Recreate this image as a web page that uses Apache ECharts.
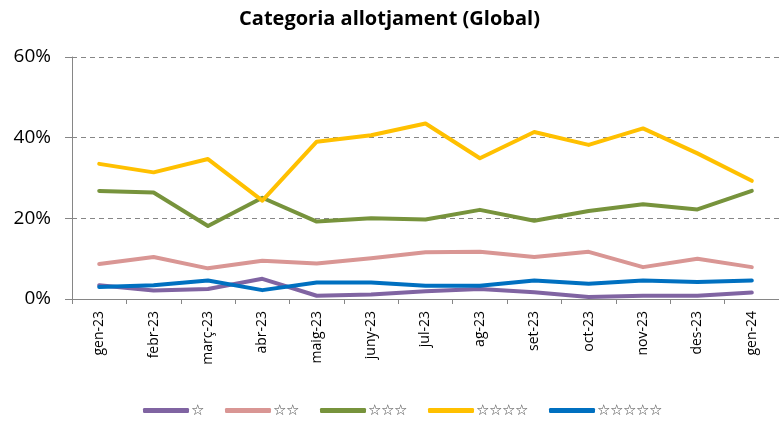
<!DOCTYPE html>
<html>
<head>
<meta charset="utf-8">
<script src="https://cdn.jsdelivr.net/npm/echarts@6/dist/echarts.min.js"></script>
<style>
  html, body { margin: 0; padding: 0; background: #fff; }
  #main { width: 779px; height: 421px; }
</style>
</head>
<body>
<div id="main"></div>
<script>
// categories (mesos)
var mesos = ['gen-23', 'febr-23', 'març-23', 'abr-23', 'maig-23', 'juny-23', 'jul-23',
             'ag-23', 'set-23', 'oct-23', 'nov-23', 'des-23', 'gen-24'];
// valors en %
var una = [3.4, 2.1, 2.5, 5.0, 0.8, 1.1, 1.9, 2.5, 1.7, 0.5, 0.8, 0.8, 1.6];
var dues = [8.7, 10.4, 7.6, 9.5, 8.8, 10.1, 11.6, 11.7, 10.4, 11.7, 7.9, 10.0, 7.9];
var tres = [26.8, 26.4, 18.1, 25.1, 19.2, 20.0, 19.7, 22.1, 19.4, 21.8, 23.5, 22.2, 26.8];
var quatre = [33.5, 31.4, 34.7, 24.4, 39.0, 40.6, 43.5, 34.9, 41.4, 38.2, 42.3, 36.1, 29.3];
var cinc = [3.0, 3.4, 4.6, 2.2, 4.1, 4.1, 3.3, 3.3, 4.6, 3.8, 4.6, 4.2, 4.6];

var noms = ['☆', '☆☆', '☆☆☆', '☆☆☆☆', '☆☆☆☆☆'];
var colors = ['#8064A2', '#D99694', '#77933C', '#FFC000', '#0070C0'];
var dades = [una, dues, tres, quatre, cinc];

var myChart = echarts.init(document.getElementById('main'));

var series = [];
for (var i = 0; i < dades.length; i++) {
    series.push({
        name: noms[i],
        type: 'line',
        data: dades[i],
        symbol: 'none',
        lineStyle: { width: 4, color: colors[i], cap: 'round', join: 'round' },
        itemStyle: { color: colors[i] }
    });
}

myChart.setOption({
    animation: false,
    textStyle: { fontFamily: 'Open Sans' },
    title: {
        text: 'Categoria allotjament (Global)',
        left: 'center',
        top: 4,
        itemGap: 0,
        textStyle: { fontSize: 20, fontWeight: 'bold', color: '#000', fontFamily: 'Open Sans' }
    },
    legend: {
        top: 403,
        left: 143,
        padding: 0,
        itemWidth: 46,
        itemHeight: 5,
        itemGap: 21,
        icon: 'roundRect',
        textStyle: { fontSize: 15, color: '#444', padding: [0, 0, 0, -3] },
        data: noms
    },
    grid: { left: 72, right: -5, top: 57, bottom: 122 },
    xAxis: {
        type: 'category',
        data: mesos,
        boundaryGap: true,
        axisLine: { lineStyle: { color: '#868686', width: 1 } },
        axisTick: { show: true, length: 5, lineStyle: { color: '#868686' } },
        axisLabel: { rotate: 90, fontSize: 14, color: '#000', margin: 12, interval: 0 }
    },
    yAxis: {
        type: 'value',
        min: 0,
        max: 60,
        interval: 20,
        axisLine: { show: true, lineStyle: { color: '#868686', width: 1 } },
        axisTick: { show: true, length: 7, lineStyle: { color: '#868686' } },
        axisLabel: { fontSize: 19, color: '#000', margin: 21, formatter: '{value}%' },
        splitLine: { lineStyle: { color: '#868686', type: [5, 4], width: 1.2 } }
    },
    series: series
});
</script>
</body>
</html>
